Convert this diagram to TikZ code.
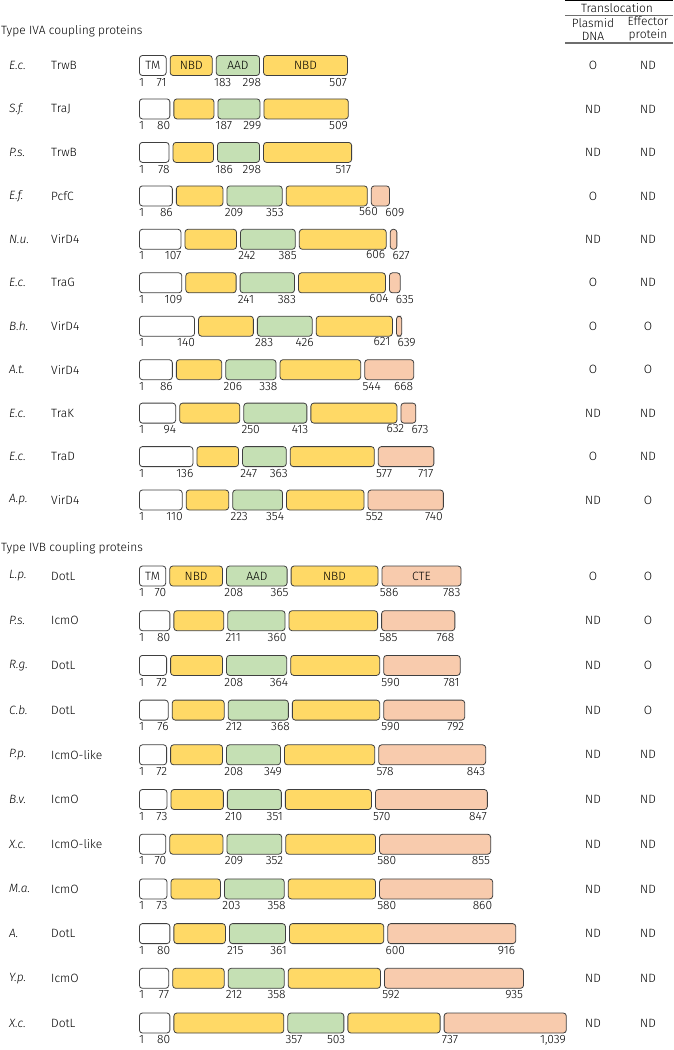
\documentclass[tikz,border=0pt]{standalone}
\usepackage{fontspec}
\setmainfont{Fira Sans Light}[ItalicFont={Fira Sans Light Italic}]
\usetikzlibrary{positioning}
\definecolor{nbd}{HTML}{FFD966}
\definecolor{aad}{HTML}{C5E0B4}
\definecolor{cte}{HTML}{F8CBAD}
\definecolor{edge}{HTML}{404040}
\definecolor{rulec}{HTML}{6E6E6E}

\newif\ifdomtext
% one domain box: name, left x, right x, y, fill, text
\newcommand\dombox[6]{%
  \pgfmathsetmacro\bw{#3-(#2)}%
  \node[dbox, fill=#5, minimum width=\bw pt, anchor=west] (#1) at (#2,#4) {#6};}
% one protein: id, y, species, protein, TM end, AAD start, AAD end, CTE start (0 = none), length
\newcommand\domrow[9]{%
  \pgfmathsetmacro\xa{139+(#5-1)*0.4113}%
  \pgfmathsetmacro\xb{139+(#6-1)*0.4113}%
  \pgfmathsetmacro\xc{139+(#7-1)*0.4113}%
  \pgfmathsetmacro\xd{139+(#8-1)*0.4113}%
  \pgfmathsetmacro\xe{139+(#9-1)*0.4113}%
  \node[sp] (#1-sp) at (9,#2) {#3};
  \node[pn] (#1-pn) at (51,#2) {#4};
  \dombox{#1-tm}{139}{\xa-2}{#2}{white}{\ifdomtext TM\fi}
  \dombox{#1-nbd}{\xa+2}{\xb-2}{#2}{nbd}{\ifdomtext NBD\fi}
  \dombox{#1-aad}{\xb+2}{\xc-2}{#2}{aad}{\ifdomtext AAD\fi}
  \node[num, anchor=mid west] (#1-l0) at (139,#2+18) {1};
  \node[num, anchor=mid east] (#1-l1) at (\xa-1,#2+18) {#5};
  \node[num, anchor=mid west] (#1-l2) at (\xb,#2+18) {#6};
  \node[num, anchor=mid east] (#1-l3) at (\xc,#2+18) {#7};
  \ifnum#8=0\relax
    \dombox{#1-nbdb}{\xc+2}{\xe}{#2}{nbd}{\ifdomtext NBD\fi}
    \node[num, anchor=mid east] (#1-l5) at (\xe,#2+18) {#9};
  \else
    \dombox{#1-nbdb}{\xc+2}{\xd-2}{#2}{nbd}{\ifdomtext NBD\fi}
    \dombox{#1-cte}{\xd+2}{\xe}{#2}{cte}{\ifdomtext CTE\fi}
    \pgfmathtruncatemacro\wide{(#9-#8)>73}%
    \ifnum\wide=1\relax
      \node[num, anchor=mid west] (#1-l4) at (\xd,#2+18) {#8};
      \node[num, anchor=mid east] (#1-l5) at (\xe,#2+18)
        {\pgfmathprintnumber[int detect, assume math mode=true, 1000 sep={,}]{#9}};
    \else
      \node[num, anchor=mid west] (#1-l5) at (\xe-4,#2+18) {#9};
      \node[num, left=7pt of #1-l5.west, anchor=mid east] (#1-l4) {#8};
    \fi
  \fi}
% translocation results: id, y, plasmid, effector
\newcommand\transl[4]{%
  \node[res] (#1-dna) at (593,#2) {#3};
  \node[res] (#1-eff) at (648,#2) {#4};}

\begin{document}
\begin{tikzpicture}[x=1pt, y=-1pt,
    font=\fontsize{12}{13}\selectfont,
    dbox/.style={draw=edge, line width=0.8pt, rounded corners=3pt, minimum height=20pt, inner sep=0pt},
    sp/.style={anchor=west, inner sep=0pt, font=\fontsize{12}{13}\selectfont\itshape},
    pn/.style={anchor=west, inner sep=0pt},
    num/.style={inner sep=0pt},
    res/.style={inner sep=0pt},
    head/.style={anchor=west, inner sep=0pt},
    rulel/.style={draw=rulec, line width=1.2pt}]
  \useasboundingbox (0,0) rectangle (673,1050);

  % table head
  \node[res] (trans) at (617,8) {Translocation};
  \node[res, align=center] (dna) at (593,29) {Plasmid\\DNA};
  \node[res, align=center] (eff) at (648,29) {Effector\\protein};
  \draw[line width=1pt] (565,0.5) -- (673,0.5);
  \draw[rulel] (565,15.5) -- (673,15.5);
  \draw[rulel] (565,43) -- (673,43);

  % type IVA
  \node[head] (iva) at (1,31) {Type IVA coupling proteins};
  \domtexttrue
  \domrow{a1}{65.5}{E.c.}{TrwB}{71}{183}{298}{0}{507}
  \domtextfalse
  \domrow{a2}{108.9}{S.f.}{TraJ}{80}{187}{299}{0}{509}
  \domrow{a3}{152.4}{P.s.}{TrwB}{78}{186}{298}{0}{517}
  \domrow{a4}{195.9}{E.f.}{PcfC}{86}{209}{353}{560}{609}
  \domrow{a5}{239.3}{N.u.}{VirD4}{107}{242}{385}{606}{627}
  \domrow{a6}{282.8}{E.c.}{TraG}{109}{241}{383}{604}{635}
  \domrow{a7}{326.2}{B.h.}{VirD4}{140}{283}{426}{621}{639}
  \domrow{a8}{369.7}{A.t.}{VirD4}{86}{206}{338}{544}{668}
  \domrow{a9}{413.1}{E.c.}{TraK}{94}{250}{413}{632}{673}
  \domrow{a10}{456.6}{E.c.}{TraD}{136}{247}{363}{577}{717}
  \domrow{a11}{500}{A.p.}{VirD4}{110}{223}{354}{552}{740}
  \transl{a1}{65.5}{O}{ND}
  \transl{a2}{108.9}{ND}{ND}
  \transl{a3}{152.4}{ND}{ND}
  \transl{a4}{195.9}{O}{ND}
  \transl{a5}{239.3}{ND}{ND}
  \transl{a6}{282.8}{O}{ND}
  \transl{a7}{326.2}{O}{O}
  \transl{a8}{369.7}{O}{O}
  \transl{a9}{413.1}{ND}{ND}
  \transl{a10}{456.6}{O}{ND}
  \transl{a11}{500}{ND}{O}

  % type IVB
  \node[head] (ivb) at (1,548) {Type IVB coupling proteins};
  \domtexttrue
  \domrow{b1}{576}{L.p.}{DotL}{70}{208}{365}{586}{783}
  \domtextfalse
  \domrow{b2}{620.7}{P.s.}{IcmO}{80}{211}{360}{585}{768}
  \domrow{b3}{665.4}{R.g.}{DotL}{72}{208}{364}{590}{781}
  \domrow{b4}{710.1}{C.b.}{DotL}{76}{212}{368}{590}{792}
  \domrow{b5}{754.8}{P.p.}{IcmO-like}{72}{208}{349}{578}{843}
  \domrow{b6}{799.5}{B.v.}{IcmO}{73}{210}{351}{570}{847}
  \domrow{b7}{844.2}{X.c.}{IcmO-like}{70}{209}{352}{580}{855}
  \domrow{b8}{888.9}{M.a.}{IcmO}{73}{203}{358}{580}{860}
  \domrow{b9}{933.6}{A.}{DotL}{80}{215}{361}{600}{916}
  \domrow{b10}{978.3}{Y.p.}{IcmO}{77}{212}{358}{592}{935}
  \domrow{b11}{1023}{X.c.}{DotL}{80}{357}{503}{737}{1039}
  \transl{b1}{576}{O}{O}
  \transl{b2}{620.7}{ND}{O}
  \transl{b3}{665.4}{ND}{O}
  \transl{b4}{710.1}{ND}{O}
  \transl{b5}{754.8}{ND}{ND}
  \transl{b6}{799.5}{ND}{ND}
  \transl{b7}{844.2}{ND}{ND}
  \transl{b8}{888.9}{ND}{ND}
  \transl{b9}{933.6}{ND}{ND}
  \transl{b10}{978.3}{ND}{ND}
  \transl{b11}{1023}{ND}{ND}
\end{tikzpicture}
\end{document}
